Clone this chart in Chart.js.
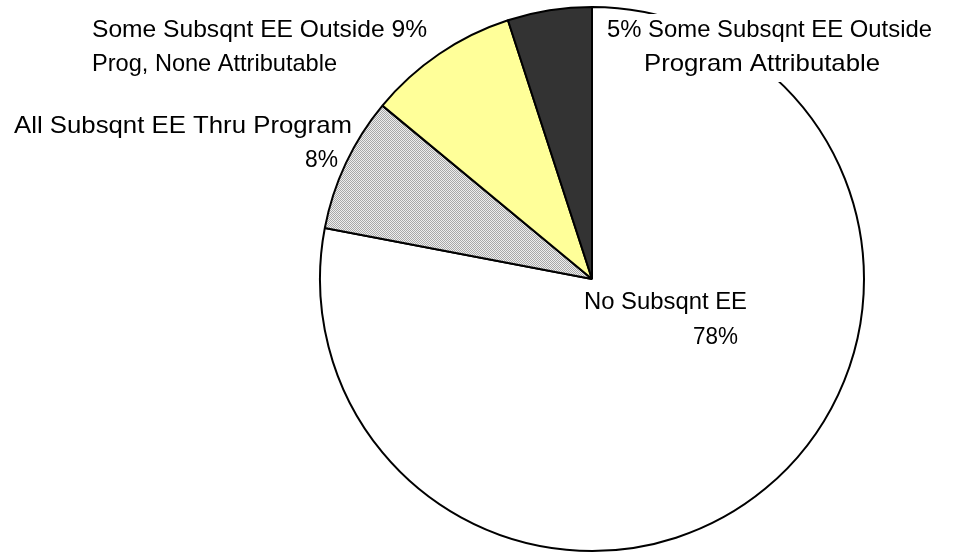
<!DOCTYPE html>
<html>
<head>
<meta charset="utf-8">
<script src="https://cdn.jsdelivr.net/npm/chart.js@4.4.1/dist/chart.umd.min.js"></script>
<style>
  html, body { margin: 0; padding: 0; background: #fff; }
  #graf { display: block; }
</style>
</head>
<body>
<canvas id="graf" width="967" height="555"></canvas>
<script>
// categories and values (clockwise from 12 o'clock)
const kategorie = [
  "No Subsqnt EE",
  "All Subsqnt EE Thru Program",
  "Some Subsqnt EE Outside Prog, None Attributable",
  "Some Subsqnt EE Outside Program Attributable"
];
const hodnoty = [78, 8, 9, 5];
const popisky = [
  ["No Subsqnt EE", "78%"],
  ["All Subsqnt EE Thru Program", "8%"],
  ["Some Subsqnt EE Outside 9%", "Prog, None Attributable"],
  ["5% Some Subsqnt EE Outside", "Program Attributable"]
];

// dotted gray fill for the 8% slice
function teckovanyVzor() {
  const c = document.createElement("canvas");
  c.width = 2; c.height = 2;
  const g = c.getContext("2d");
  g.fillStyle = "#eeeeee";
  g.fillRect(0, 0, 2, 2);
  g.fillStyle = "#a8a8a8";
  g.fillRect(0, 0, 1, 1);
  g.fillRect(1, 1, 1, 1);
  return g.createPattern(c, "repeat");
}

const barvy = ["#ffffff", teckovanyVzor(), "#ffff99", "#333333"];

// label lines relative to pie centre: [left dx, right dx, dy]
const umisteni = [
  [[-8, 155, 23], [101, 146, 58]],
  [[-578, -240, -153], [-287, -254, -119]],
  [[-500, -165, -249], [-500, -255, -215]],
  [[15, 340, -249], [52, 288, -215]]
];

const popiskyPlugin = {
  id: "popisky",
  afterDatasetsDraw(chart) {
    const ctx = chart.ctx;
    const oblouk = chart.getDatasetMeta(0).data[0];
    const cx = oblouk.x, cy = oblouk.y;
    ctx.save();
    // white label box of the 5% slice hides part of the outline
    ctx.fillStyle = "#fff";
    ctx.fillRect(cx + 8, cy - 265, 345, 68);
    ctx.font = "24px 'Liberation Sans', Arial, sans-serif";
    ctx.fillStyle = "#000";
    ctx.textBaseline = "middle";
    ctx.textAlign = "left";
    popisky.forEach((radky, i) => {
      radky.forEach((t, j) => {
        const [x0, x1, dy] = umisteni[i][j];
        const w = ctx.measureText(t).width;
        const sx = (x1 - x0) / w;
        ctx.save();
        ctx.translate(cx + x0, cy + dy);
        ctx.scale(sx, 1);
        ctx.fillText(t, 0, 0);
        ctx.restore();
      });
    });
    ctx.restore();
  }
};

new Chart(document.getElementById("graf"), {
  type: "pie",
  data: {
    labels: kategorie,
    datasets: [{
      data: hodnoty,
      backgroundColor: barvy,
      borderColor: "#000",
      borderWidth: 2,
      hoverOffset: 0
    }]
  },
  options: {
    responsive: false,
    animation: false,
    devicePixelRatio: 1,
    layout: { padding: { left: 319, right: 102, top: 6, bottom: 3 } },
    plugins: {
      legend: { display: false },
      tooltip: { enabled: false },
      title: { display: false }
    }
  },
  plugins: [popiskyPlugin]
});
</script>
</body>
</html>
